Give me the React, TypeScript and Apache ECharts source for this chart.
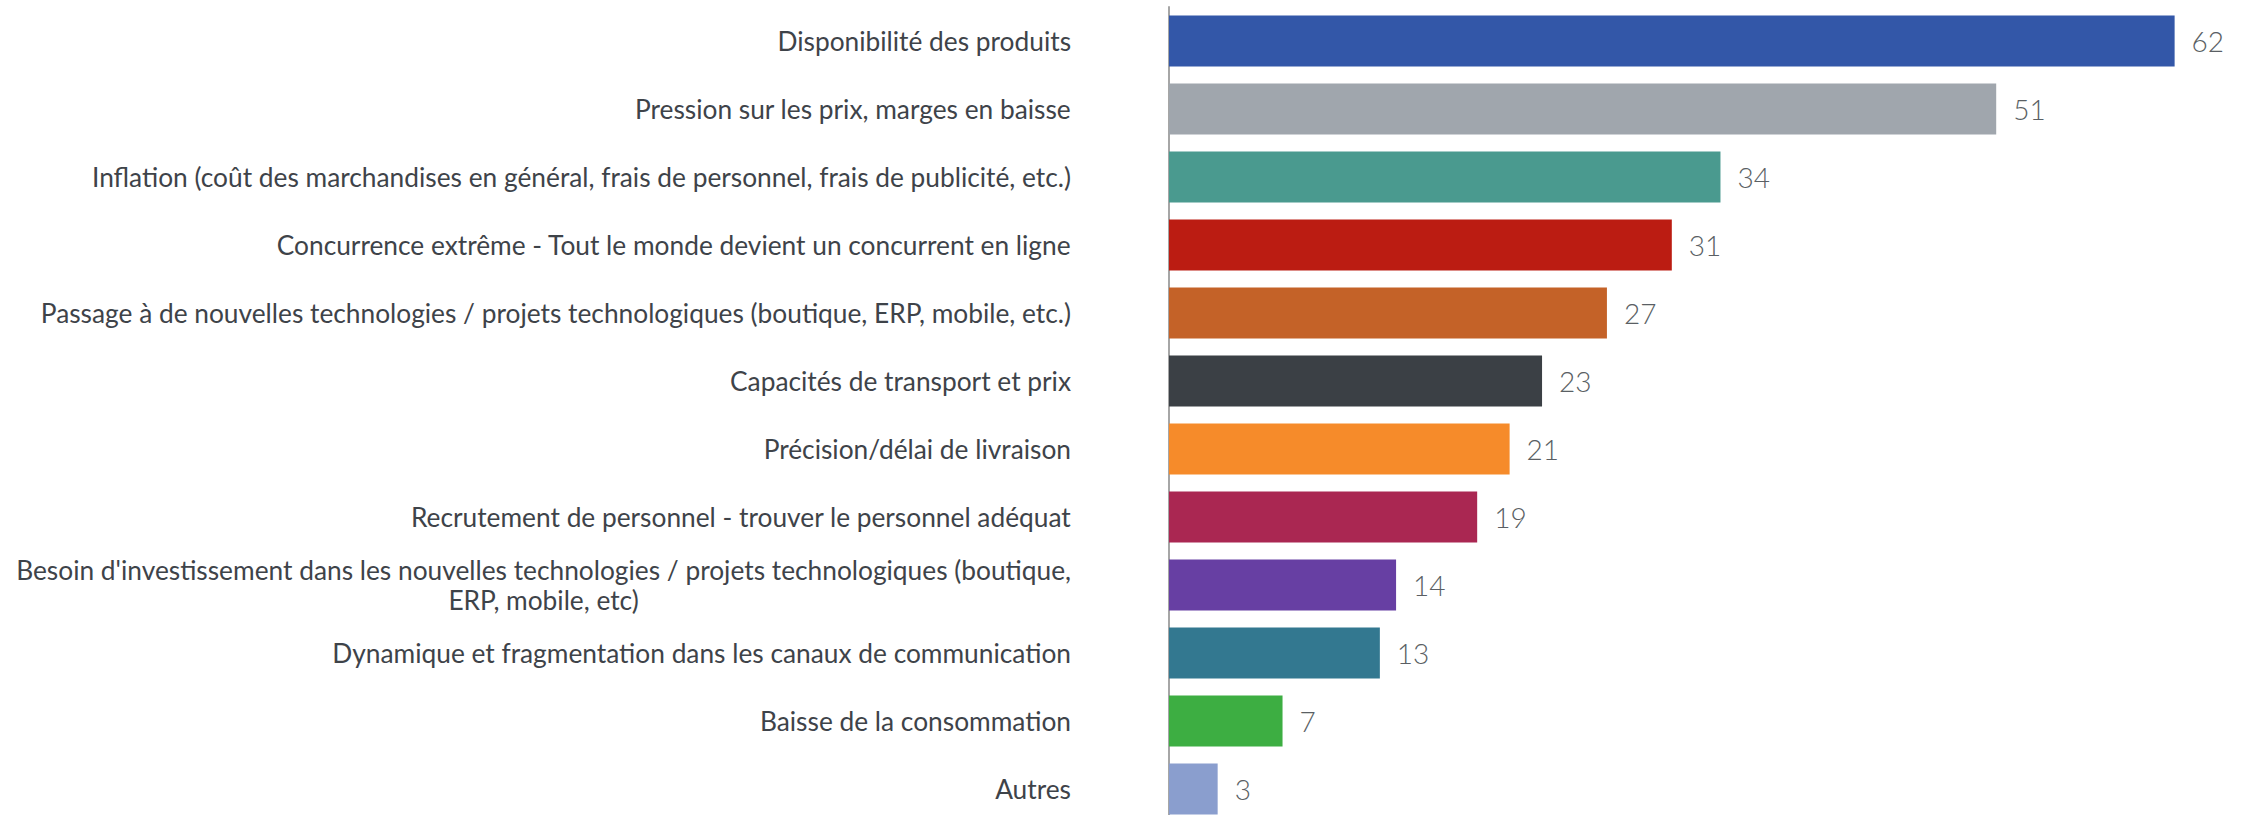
import React, { useEffect, useRef } from "react";
import * as echarts from "echarts";

const categories = [
  "Disponibilité des produits",
  "Pression sur les prix, marges en baisse",
  "Inflation (coût des marchandises en général, frais de personnel, frais de publicité, etc.)",
  "Concurrence extrême - Tout le monde devient un concurrent en ligne",
  "Passage à de nouvelles technologies / projets technologiques (boutique, ERP, mobile, etc.)",
  "Capacités de transport et prix",
  "Précision/délai de livraison",
  "Recrutement de personnel - trouver le personnel adéquat",
  "Besoin d'investissement dans les nouvelles technologies / projets technologiques (boutique,\nERP, mobile, etc)",
  "Dynamique et fragmentation dans les canaux de communication",
  "Baisse de la consommation",
  "Autres",
];

const values = [62, 51, 34, 31, 27, 23, 21, 19, 14, 13, 7, 3];

const colors = [
  "#3357A8",
  "#A0A6AD",
  "#4A9A8F",
  "#BB1C12",
  "#C46228",
  "#3B4045",
  "#F68B2A",
  "#AA2752",
  "#673FA3",
  "#337890",
  "#3DAE42",
  "#8A9ECE",
];

export default function App() {
  const ref = useRef<HTMLDivElement>(null);

  useEffect(() => {
    if (!ref.current) return;
    const chart = echarts.init(ref.current, undefined, { renderer: "svg" });
    chart.setOption({
      animation: false,
      grid: { left: 1169, top: 7, height: 816, right: 5.5, containLabel: false },
      xAxis: {
        type: "value",
        min: 0,
        max: 66,
        show: false,
        splitLine: { show: false },
      },
      yAxis: {
        type: "category",
        inverse: true,
        data: categories,
        axisLine: { show: true, lineStyle: { color: "#A6A6A6", width: 2 } },
        axisTick: { show: false },
        axisLabel: {
          margin: 98,
          formatter: (v: string) =>
            v
              .split("\n")
              .map((l) => "{c|" + l + "}")
              .join("\n"),
          rich: {
            c: {
              align: "center",
              fontFamily: "Lato",
              fontSize: 26.3,
              lineHeight: 30,
              color: "#3E4349",
            },
          },
        },
      },
      series: [
        {
          type: "bar",
          barWidth: 51,
          data: values.map((v, i) => ({ value: v, itemStyle: { color: colors[i] } })),
          label: {
            show: true,
            position: "right",
            distance: 17,
            fontFamily: "Lato",
            fontWeight: 300,
            fontSize: 28,
            color: "#5A5F64",
          },
        },
      ],
    });
    return () => chart.dispose();
  }, []);

  return (
    <div
      ref={ref}
      style={{ position: "absolute", left: 0, top: 0, width: 2245, height: 830 }}
    />
  );
}
